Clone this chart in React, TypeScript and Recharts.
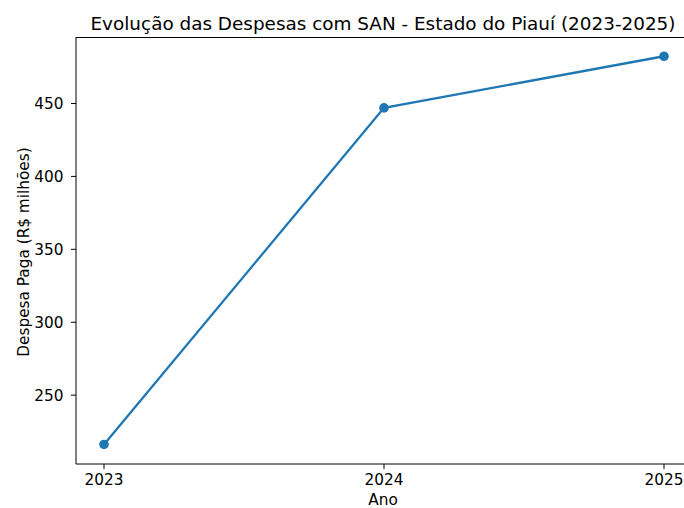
import { LineChart, Line, XAxis, YAxis } from "recharts"

const anos = [2023, 2024, 2025]
const despesa = [216.2, 447.0, 482.4]
const yTicks = [250, 300, 350, 400, 450]

const data = anos.map((ano, i) => ({ ano, despesa: despesa[i] }))

const FONT = "'DejaVu Sans', sans-serif"
const BLUE = "#1f77b4"
const X_DOMAIN = [2022.9, 2025.1]
const Y_DOMAIN = [202.8, 495.6]

export default function App() {
    return (
        <div
            style={{
                position: "fixed",
                left: 0,
                top: 0,
                width: 684,
                height: 508,
                overflow: "hidden",
                background: "#fff",
            }}
        >
            <LineChart
                width={700}
                height={508}
                data={data}
                margin={{ top: 37, right: 8, bottom: 14, left: 0 }}
            >
                <XAxis
                    dataKey="ano"
                    type="number"
                    domain={X_DOMAIN}
                    ticks={anos}
                    height={30}
                    stroke="#000"
                    tickSize={5}
                    tickMargin={5}
                    tick={{ fill: "#000", fontSize: 15.3, fontFamily: FONT }}
                    allowDataOverflow
                />
                <YAxis
                    type="number"
                    domain={Y_DOMAIN}
                    ticks={yTicks}
                    width={76}
                    stroke="#000"
                    tickSize={5}
                    tickMargin={7.5}
                    tick={{ fill: "#000", fontSize: 15.3, fontFamily: FONT }}
                    allowDataOverflow
                />
                <Line
                    type="linear"
                    dataKey="despesa"
                    stroke={BLUE}
                    strokeWidth={2.3}
                    dot={{ r: 4.8, fill: BLUE, stroke: BLUE, strokeWidth: 0 }}
                    isAnimationActive={false}
                />
            </LineChart>
            {/* top spine of the axes frame */}
            <div
                style={{
                    position: "absolute",
                    left: 76,
                    top: 37,
                    width: 620,
                    height: 0,
                    borderTop: "1px solid #000",
                    zIndex: 5,
                }}
            />
            <svg
                width={684}
                height={508}
                style={{ position: "absolute", left: 0, top: 0, pointerEvents: "none" }}
            >
                <text
                    x={383}
                    y={30}
                    textAnchor="middle"
                    fontSize={18.4}
                    fontFamily={FONT}
                    fill="#000"
                >
                    Evolução das Despesas com SAN - Estado do Piauí (2023-2025)
                </text>
                <text
                    x={383}
                    y={505}
                    textAnchor="middle"
                    fontSize={15.3}
                    fontFamily={FONT}
                    fill="#000"
                >
                    Ano
                </text>
                <text
                    x={29}
                    y={252}
                    transform="rotate(-90 29 252)"
                    textAnchor="middle"
                    fontSize={15.3}
                    fontFamily={FONT}
                    fill="#000"
                >
                    Despesa Paga (R$ milhões)
                </text>
            </svg>
        </div>
    )
}
